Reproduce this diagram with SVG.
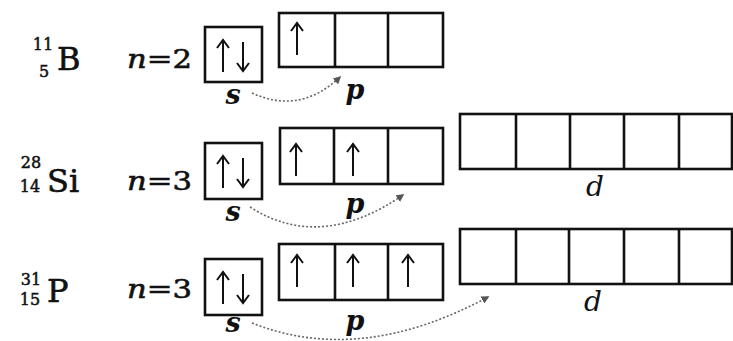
<svg xmlns="http://www.w3.org/2000/svg" width="733" height="341" viewBox="0 0 733 341">
<defs>
<style>
.box{fill:none;stroke:#111;stroke-width:2.6}
.el{font-family:"DejaVu Serif",serif;font-size:32px;fill:#111;stroke:#111;stroke-width:0.6}
.iso{font-family:"DejaVu Serif",serif;font-size:16px;fill:#111;stroke:#111;stroke-width:0.5;text-anchor:middle}
.n{font-family:"DejaVu Serif",serif;font-size:26px;fill:#111;stroke:#111;stroke-width:0.6}
.lbl{font-family:"DejaVu Serif",serif;font-size:27px;font-style:italic;font-weight:bold;fill:#111;text-anchor:middle}
.dl{font-family:"DejaVu Serif",serif;font-size:28px;font-style:italic;fill:#111;text-anchor:middle}
.spin{fill:none;stroke:#111;stroke-width:2}
.dot{fill:none;stroke:#666;stroke-width:1.6;stroke-dasharray:2 2;marker-end:url(#ah)}
</style>
<marker id="ah" viewBox="0 0 10 10" refX="8" refY="5" markerWidth="5" markerHeight="5" orient="auto" markerUnits="strokeWidth">
<path d="M0,0 L10,5 L0,10 z" fill="#555"/>
</marker>
<g id="up"><path class="spin" d="M0,16 V-15 M-6,-8 L0,-16 L6,-8"/></g>
<g id="down"><path class="spin" d="M0,-14 V15 M-6,7 L0,15 L6,7"/></g>
</defs>
<rect width="733" height="341" fill="#fff"/>

<g id="row-B">
<text class="iso" x="43" y="50">11</text>
<text class="iso" x="44" y="77">5</text>
<text class="el" x="57" y="70">B</text>
<text class="n" x="127" y="68" textLength="65" lengthAdjust="spacingAndGlyphs"><tspan font-style="italic">n</tspan>=2</text>
<g id="B-s"><rect class="box" x="205" y="27" width="57" height="55"/>
<use href="#up" x="223" y="56"/><use href="#down" x="243" y="56"/>
<text class="lbl" x="233" y="104">s</text></g>
<g id="B-p"><rect class="box" x="279" y="13" width="164" height="54"/>
<path class="box" d="M335,13 V67 M388,13 V67"/>
<use href="#up" x="297" y="39"/>
<text class="lbl" x="355" y="99">p</text></g>
</g>

<g id="row-Si">
<text class="iso" x="31" y="168">28</text>
<text class="iso" x="30" y="192">14</text>
<text class="el" x="47" y="192">Si</text>
<text class="n" x="127" y="190" textLength="65" lengthAdjust="spacingAndGlyphs"><tspan font-style="italic">n</tspan>=3</text>
<g id="Si-s"><rect class="box" x="205" y="143" width="57" height="56"/>
<use href="#up" x="223" y="172"/><use href="#down" x="243" y="172"/>
<text class="lbl" x="233" y="221">s</text></g>
<g id="Si-p"><rect class="box" x="280" y="128" width="163" height="56"/>
<path class="box" d="M334,128 V184 M388,128 V184"/>
<use href="#up" x="296" y="160"/><use href="#up" x="353" y="160"/>
<text class="lbl" x="355" y="213">p</text></g>
<g id="Si-d"><rect class="box" x="460" y="114" width="272" height="55"/>
<path class="box" d="M516,114 V169 M570,114 V169 M624,114 V169 M679,114 V169"/>
<text class="dl" x="595" y="196">d</text></g>
</g>

<g id="row-P">
<text class="iso" x="31" y="285">31</text>
<text class="iso" x="30" y="305">15</text>
<text class="el" x="47" y="302">P</text>
<text class="n" x="127" y="298" textLength="65" lengthAdjust="spacingAndGlyphs"><tspan font-style="italic">n</tspan>=3</text>
<g id="P-s"><rect class="box" x="205" y="259" width="57" height="56"/>
<use href="#up" x="223" y="288"/><use href="#down" x="243" y="288"/>
<text class="lbl" x="233" y="332">s</text></g>
<g id="P-p"><rect class="box" x="279" y="244" width="164" height="56"/>
<path class="box" d="M335,244 V300 M388,244 V300"/>
<use href="#up" x="297" y="271"/><use href="#up" x="353" y="271"/><use href="#up" x="408" y="271"/>
<text class="lbl" x="355" y="330">p</text></g>
<g id="P-d"><rect class="box" x="460" y="229" width="272" height="55"/>
<path class="box" d="M516,229 V284 M569,229 V284 M624,229 V284 M679,229 V284"/>
<text class="dl" x="593" y="311">d</text></g>
</g>

<g id="connectors">
<path class="dot" d="M252,93 Q300,115 340,77"/>
<path class="dot" d="M250,207 Q320,252 403,195"/>
<path class="dot" d="M252,323 Q360,366 488,297"/>
</g>
</svg>
